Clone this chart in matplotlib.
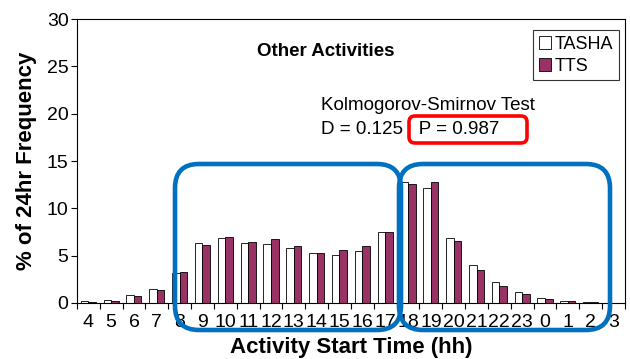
import matplotlib
matplotlib.use("Agg")
import matplotlib.pyplot as plt
import numpy as np
from matplotlib.patches import FancyBboxPatch
from matplotlib.transforms import IdentityTransform

plt.rcParams['font.family'] = ['Liberation Sans', 'DejaVu Sans']

hours = ['4', '5', '6', '7', '8', '9', '10', '11', '12', '13', '14', '15',
         '16', '17', '18', '19', '20', '21', '22', '23', '0', '1', '2', '3']
tasha = [0.2, 0.35, 0.8, 1.5, 3.2, 6.3, 6.9, 6.3, 6.2, 5.85, 5.25, 5.1,
         5.5, 7.5, 12.8, 12.1, 6.9, 4.0, 2.25, 1.2, 0.5, 0.25, 0.1, 0.05]
tts = [0.1, 0.25, 0.7, 1.4, 3.3, 6.15, 7.0, 6.4, 6.8, 6.05, 5.25, 5.55,
       6.05, 7.55, 12.55, 12.8, 6.55, 3.5, 1.75, 0.95, 0.4, 0.2, 0.1, 0.05]

fig = plt.figure(figsize=(6.3, 3.59), dpi=100)
ax = fig.add_axes([0.122, 0.156, 0.870, 0.791])

x = np.arange(len(hours))
w = 0.33
ax.bar(x - w/2, tasha, w, color='white', edgecolor='black', linewidth=0.6, label='TASHA')
ax.bar(x + w/2, tts, w, color='#993366', edgecolor='black', linewidth=0.6, label='TTS')

ax.set_xlim(-0.5, len(hours) - 0.5)
ax.set_ylim(0, 30)
ax.set_yticks([0, 5, 10, 15, 20, 25, 30])
ax.set_xticks(x)
ax.set_xticklabels(hours, fontsize=14)
ax.tick_params(axis='x', length=0, pad=8)
ax.set_xticks(np.arange(-0.5, len(hours)), minor=True)
ax.tick_params(axis='x', which='minor', length=4, width=0.8)
ax.tick_params(axis='y', labelsize=14, length=4, width=0.8, pad=2)
for s in ax.spines.values():
    s.set_linewidth(0.8)

ax.set_xlabel('Activity Start Time (hh)', fontsize=16, fontweight='bold', labelpad=4)
ax.set_ylabel('% of 24hr Frequency', fontsize=16, fontweight='bold', labelpad=7)

ax.text(0.455, 0.885, 'Other Activities', transform=ax.transAxes, fontsize=13.5,
        fontweight='bold', ha='center', va='center')
ax.text(0.446, 0.695, 'Kolmogorov-Smirnov Test', transform=ax.transAxes,
        fontsize=13.5, ha='left', va='center')
ax.text(0.446, 0.612, 'D = 0.125   P = 0.987', transform=ax.transAxes,
        fontsize=13.5, ha='left', va='center')

leg = ax.legend(loc='upper right', bbox_to_anchor=(0.999, 0.98), fontsize=13,
                frameon=True, fancybox=False, handlelength=0.7, handleheight=0.7,
                handletextpad=0.2, borderpad=0.3, labelspacing=0.3,
                borderaxespad=0.3)
leg.get_frame().set_edgecolor('black')
leg.get_frame().set_linewidth(0.8)

# highlight boxes in pixel coordinates
H = 359
def px_box(x0, y0, x1, y1, color, lw, r):
    p = FancyBboxPatch((x0, H - y1), x1 - x0, y1 - y0,
                       boxstyle='round,pad=0,rounding_size=%d' % r,
                       transform=IdentityTransform(), fill=False,
                       edgecolor=color, linewidth=lw, clip_on=False, zorder=10)
    fig.patches.append(p)

px_box(175, 164, 401, 330, '#0070C0', 3.3, 24)
px_box(399, 164, 610, 330, '#0070C0', 3.3, 24)
px_box(409, 116, 527, 143, '#FF0000', 2.6, 6)

fig.savefig('out.png', dpi=100)
